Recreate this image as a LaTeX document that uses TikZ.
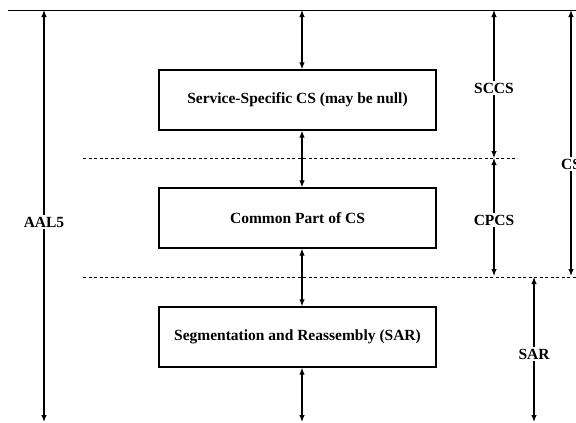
\documentclass[tikz,border=0pt]{standalone}
\usepackage{fontspec}
\setmainfont{Liberation Serif}
\usetikzlibrary{arrows.meta}
\begin{document}
\begin{tikzpicture}[x=1pt,y=-1pt,
  layer/.style={draw,line width=1.3pt,minimum width=277pt,minimum height=60pt,font=\bfseries\fontsize{15.5}{18}\selectfont},
  lbl/.style={fill=white,inner sep=1.5pt,font=\bfseries\fontsize{15.5}{18}\selectfont},
  dim/.style={line width=1.2pt,{Latex[length=7pt,width=5.5pt]}-{Latex[length=7pt,width=5.5pt]}},
  sep/.style={dashed,line width=0.6pt,dash pattern=on 3pt off 2.5pt}]
\useasboundingbox (0,0) rectangle (576,423);
% top line
\coordinate (tl) at (8,10);
\coordinate (tr) at (576,10);
\draw[line width=0.8pt] (tl) -- (tr);
% dashed separators
\coordinate (d1l) at (83,158);
\coordinate (d1r) at (517,158);
\coordinate (d2l) at (83,277);
\coordinate (d2r) at (576,277);
\draw[sep] (d1l) -- (d1r);
\draw[sep] (d2l) -- (d2r);
% boxes
\node[layer] (b1) at (297.5,100) {Service-Specific CS (may be null)};
\node[layer] (b2) at (297.5,218) {Common Part of CS};
\node[layer] (b3) at (297.5,337) {Segmentation and Reassembly (SAR)};
% middle arrows
\coordinate (mt) at (302,10);
\coordinate (mb) at (302,422);
\draw[dim] (mt) -- (b1.north -| mt);
\draw[dim] (b1.south -| mt) -- (b2.north -| mt);
\draw[dim] (b2.south -| mt) -- (b3.north -| mt);
\draw[dim] (b3.south -| mt) -- (mb);
% AAL5
\coordinate (at) at (44,10);
\coordinate (ab) at (44,422);
\draw[dim] (at) -- (ab);
\node[lbl] (aal) at (44,222) {AAL5};
% SCCS
\coordinate (st) at (494,10);
\coordinate (sb) at (494,158);
\draw[dim] (st) -- (sb);
\node[lbl] (sccs) at (494,88) {SCCS};
% CPCS
\coordinate (ct) at (494,158);
\coordinate (cb) at (494,276);
\draw[dim] (ct) -- (cb);
\node[lbl] (cpcs) at (494,220) {CPCS};
% CS
\coordinate (cst) at (571,10);
\coordinate (csb) at (571,276);
\draw[dim] (cst) -- (csb);
\node[lbl] (cs) at (571,164) {CS};
% SAR
\coordinate (sart) at (534,277);
\coordinate (sarb) at (534,422);
\draw[dim] (sart) -- (sarb);
\node[lbl] (sar) at (534,354) {SAR};
\end{tikzpicture}
\end{document}
